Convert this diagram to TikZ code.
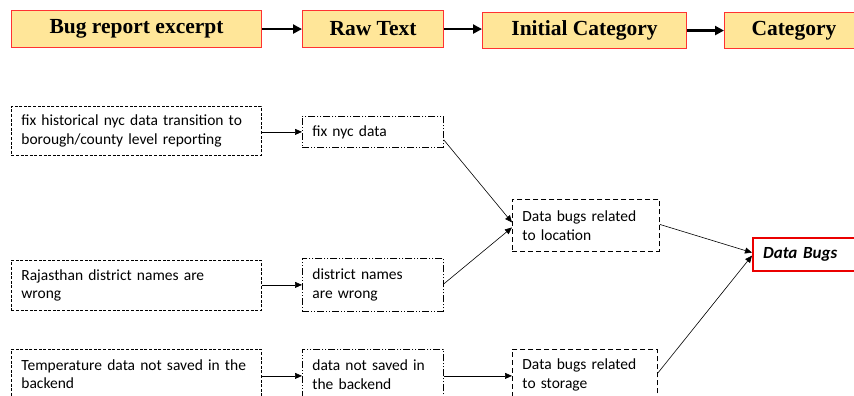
\documentclass[tikz,border=0pt]{standalone}
\usepackage{fontspec}
\setmainfont{Carlito}
\newfontfamily\serifb{Liberation Serif}
\usetikzlibrary{arrows.meta}
\definecolor{hdrfill}{RGB}{255,230,153}
\definecolor{hdrline}{RGB}{255,50,50}
\definecolor{bugred}{RGB}{235,0,0}
\tikzset{
  hdr/.style={draw=hdrline, line width=1.1pt, fill=hdrfill, anchor=north west, inner sep=0pt,
    font=\serifb\bfseries\fontsize{21.5}{24}\selectfont},
  hdrarrow/.style={line width=2.8pt, -{Triangle[length=9pt,width=9pt]}},
  boxtext/.style={anchor=north west, inner xsep=10pt, inner ysep=0pt, align=left,
    font=\fontsize{15.5}{18.5}\selectfont},
  srcbox/.style={boxtext, draw, line width=0.8pt, dash pattern=on 3pt off 1.6pt},
  rawbox/.style={boxtext, draw, line width=0.8pt, dash pattern=on 7pt off 2pt on 1pt off 2pt on 1pt off 2pt},
  catbox/.style={boxtext, draw, line width=0.9pt, dash pattern=on 5pt off 3pt},
  finalbox/.style={anchor=north west, draw=bugred, line width=2.2pt, inner xsep=10pt, inner ysep=0pt,
    font=\bfseries\itshape\fontsize{17}{20}\selectfont},
  conn/.style={line width=0.6pt, -{Triangle[length=7pt,width=6pt]}},
}
\begin{document}
\begin{tikzpicture}[x=1pt,y=-1pt]
\clip (0,0) rectangle (854,396);
\useasboundingbox (0,0) rectangle (854,396);
% header
\node[hdr, minimum width=250pt, minimum height=37pt] (h1) at (11,10) {Bug report excerpt};
\node[hdr, minimum width=141pt, minimum height=37pt] (h2) at (302,10) {Raw Text};
\node[hdr, minimum width=204pt, minimum height=36pt] (h3) at (482,12) {Initial Category};
\node[hdr, minimum width=130pt, minimum height=36pt, text width=130pt, align=left] (h4) at (724,12) {\hspace{27pt}Category};
\draw[hdrarrow] (h1.east) -- (h2.west |- h1.east);
\draw[hdrarrow] (h2.east) -- (h3.west |- h2.east);
\draw[hdrarrow] (h3.east) -- (h4.west);
% sources
\node[srcbox, minimum width=250pt, minimum height=49pt, text width=230pt] (s1) at (11,106)
  {fix historical nyc data transition to\\borough/county level reporting};
\node[srcbox, minimum width=250pt, minimum height=50pt, text width=230pt] (s2) at (11,260)
  {Rajasthan district names are\\wrong};
\node[srcbox, minimum width=250pt, minimum height=50pt, text width=230pt] (s3) at (11,349)
  {Temperature data not saved in the\\backend};
% raw texts
\node[rawbox, minimum width=141pt, minimum height=31pt, text width=121pt] (r1) at (302,116)
  {fix nyc data};
\node[rawbox, minimum width=141pt, minimum height=53pt, text width=121pt] (r2) at (302,258)
  {district names\\are wrong};
\node[rawbox, minimum width=141pt, minimum height=51pt, text width=121pt] (r3) at (302,349)
  {data not saved in\\the backend};
% initial categories
\node[catbox, minimum width=147pt, minimum height=52pt, text width=127pt] (c1) at (512,199)
  {Data bugs related\\to location};
\node[catbox, minimum width=145pt, minimum height=51pt, text width=125pt] (c2) at (512,349)
  {Data bugs related\\to storage};
% final
\node[finalbox, minimum width=108pt, minimum height=33pt, text width=88pt, align=left] (f1) at (752,237)
  {Data Bugs};
% connectors
\draw[conn] (s1.east |- r1.west) -- (r1.west);
\draw[conn] (s2.east |- r2.west) -- (r2.west);
\draw[conn] ([yshift=-1pt]s3.east |- r3.west) -- ([yshift=-1pt]r3.west);
\draw[conn] ([yshift=-8pt]r1.east) -- ([yshift=3pt]c1.west);
\draw[conn] ([yshift=1pt]r2.east) -- ([yshift=-2pt]c1.west);
\draw[conn] ([yshift=-1pt]r3.east) -- ([yshift=-1pt]r3.east -| c2.west);
\draw[conn] ([yshift=1pt]c1.east) -- ([yshift=2pt]f1.west);
\draw[conn] ([yshift=2pt]c2.east) -- ([yshift=-1pt]f1.west);
\end{tikzpicture}
\end{document}
